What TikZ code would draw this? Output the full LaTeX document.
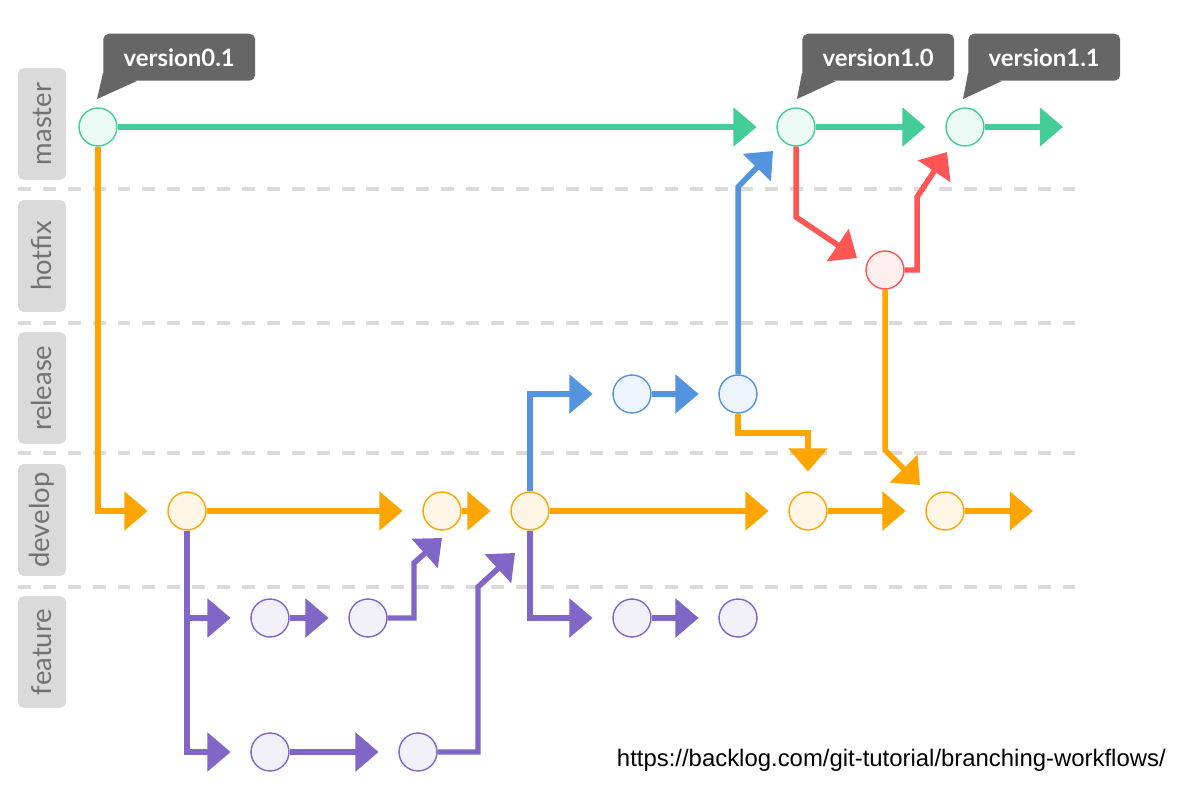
\documentclass[tikz,border=0pt]{standalone}
\usepackage{fontspec}
\setmainfont{Lato}
\newfontfamily\urlfont{Liberation Sans}
\usetikzlibrary{arrows.meta,calc}

\definecolor{mastergreen}{HTML}{44CC99}
\definecolor{hotfixred}{HTML}{FF5555}
\definecolor{releaseblue}{HTML}{5294DE}
\definecolor{developorange}{HTML}{FFA500}
\definecolor{featurepurple}{HTML}{8066C6}
\definecolor{lanegray}{HTML}{DADADA}
\definecolor{lanetext}{HTML}{727272}
\definecolor{taggray}{HTML}{666666}

\tikzset{
  commit/.style={circle, draw=#1, fill=#1!10, line width=1pt, minimum size=27pt, inner sep=0pt},
  flow/.style={draw=#1, line width=3.9pt, -{Triangle[length=16.5pt,width=27pt]}, shorten >=14pt},
  merge/.style={flow=#1, shorten >=0pt},
  lane/.style={rotate=90, fill=lanegray, text=lanetext, rounded corners=4pt, minimum width=79.5pt, minimum height=34pt, font=\fontsize{19.5}{19.5}\selectfont},
  tag/.style={anchor=south west, fill=taggray, text=white, rounded corners=4pt, minimum width=108pt, minimum height=33.4pt, font=\bfseries\fontsize{17}{17}\selectfont},
  lanesep/.style={draw=lanegray, line width=2.8pt, dash pattern=on 9.2pt off 8.5pt}
}

\begin{document}
\begin{tikzpicture}[x=0.025cm, y=-0.025cm]
\useasboundingbox (0,0) rectangle (1178,794);

% lanes
\node[lane] (master) at (42,124) {master};
\node[lane] (hotfix) at (42,256) {hotfix};
\node[lane] (release) at (42,388) {release};
\node[lane] (develop) at (42,520) {develop};
\node[lane] (feature) at (42,652) {feature};

\draw[lanesep] (18,189) -- (1075,189);
\draw[lanesep] (18,323) -- (1075,323);
\draw[lanesep] (18,453) -- (1075,453);
\draw[lanesep] (18,587) -- (1075,587);

% commits
\node[commit=mastergreen] (m1) at (98,127) {};
\node[commit=mastergreen] (m2) at (796,127) {};
\node[commit=mastergreen] (m3) at (965,127) {};
\node[commit=hotfixred] (h1) at (885,270) {};
\node[commit=releaseblue] (r1) at (632,394) {};
\node[commit=releaseblue] (r2) at (738,394) {};
\node[commit=developorange] (d1) at (187,511) {};
\node[commit=developorange] (d2) at (442,511) {};
\node[commit=developorange] (d3) at (530,511) {};
\node[commit=developorange] (d4) at (808,511) {};
\node[commit=developorange] (d5) at (945,511) {};
\node[commit=featurepurple] (fa1) at (270,618) {};
\node[commit=featurepurple] (fa2) at (368,618) {};
\node[commit=featurepurple] (fb1) at (270,752) {};
\node[commit=featurepurple] (fb2) at (418,752) {};
\node[commit=featurepurple] (fc1) at (632,618) {};
\node[commit=featurepurple] (fc2) at (738,618) {};
\coordinate (mend) at (1063,127);
\coordinate (dend) at (1033,511);

% master
\draw[flow=mastergreen] (m1) -- (m2);
\draw[flow=mastergreen] (m2) -- (m3);
\draw[merge=mastergreen] (m3) -- (mend);

% develop
\draw[flow=developorange] (m1) |- (d1);
\draw[flow=developorange] (d1) -- (d2);
\draw[flow=developorange] (d2) -- (d3);
\draw[flow=developorange] (d3) -- (d4);
\draw[flow=developorange] (d4) -- (d5);
\draw[merge=developorange] (d5) -- (dend);

% feature
\draw[flow=featurepurple] (d1) |- (fa1);
\draw[flow=featurepurple] (d1) |- (fb1);
\draw[flow=featurepurple] (fa1) -- (fa2);
\draw[merge=featurepurple] (fa2) -- ++(46,0) -- ++(0,-55) -- ($(d2)+(0,27)$);
\draw[flow=featurepurple] (fb1) -- (fb2);
\draw[merge=featurepurple] (fb2) -- ++(60,0) -- ++(0,-165) -- ($(d3)+(-15,42)$);
\draw[flow=featurepurple] (d3) |- (fc1);
\draw[flow=featurepurple] (fc1) -- (fc2);

% release
\draw[flow=releaseblue] (d3) |- (r1);
\draw[flow=releaseblue] (r1) -- (r2);
\draw[merge=releaseblue] (r2) -- ++(0,-207) -- ($(m2)+(-23,24)$);
\draw[flow=developorange] (r2) -- ++(0,39) -| (d4);

% hotfix
\draw[merge=hotfixred] (m2) -- ++(0,90) -- ($(h1)+(-28,-12)$);
\draw[merge=hotfixred] (h1) -- ++(32,0) -- ++(0,-73) -- ($(m3)+(-18,25)$);
\draw[merge=developorange] (h1) -- ++(0,180) -- ($(d5)+(-25,-26)$);

% tags
\node[tag] (v01) at ($(m1)+(5,-46)$) {version0.1};
\fill[taggray] ($(v01.south west)+(0,-8)$) -- ($(m1)+(-1,-28)$) -- ($(v01.south west)+(34,0)$) -- cycle;
\node[tag] (v10) at ($(m2)+(6,-46)$) {version1.0};
\fill[taggray] ($(v10.south west)+(0,-8)$) -- ($(m2)+(1,-28)$) -- ($(v10.south west)+(34,0)$) -- cycle;
\node[tag] (v11) at ($(m3)+(3,-46)$) {version1.1};
\fill[taggray] ($(v11.south west)+(0,-8)$) -- ($(m3)+(-2,-28)$) -- ($(v11.south west)+(34,0)$) -- cycle;

\node[anchor=base west, font=\urlfont\fontsize{17}{17}\selectfont] (url) at (612,766) {https://backlog.com/git-tutorial/branching-workflows/};
\end{tikzpicture}
\end{document}
